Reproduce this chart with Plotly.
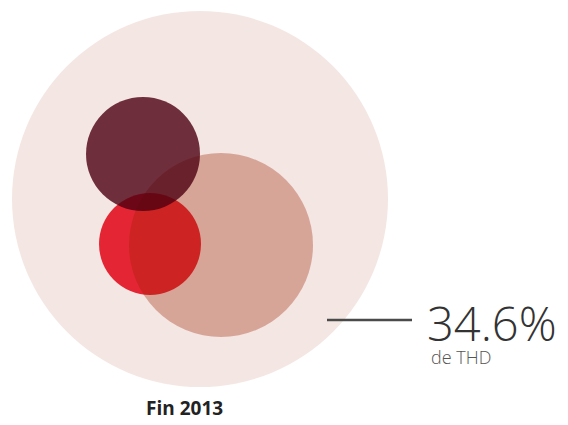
import plotly.graph_objects as go

# Circles (center x, center y, radius) in chart units, drawn back to front
circle_names = ["Total", "Segment rouge", "Segment THD", "Segment bordeaux"]
circle_cx = [200, 150, 221, 143]
circle_cy = [199, 244, 245, 154]
circle_r = [188, 51, 92, 57]
circle_colors = ["rgb(244,231,227)", "rgb(228,38,52)", "rgba(159,31,0,0.33)", "rgba(78,0,17,0.8)"]

value_label = "34.6%"
value_sub = "de THD"
period_label = "Fin 2013"

fig = go.Figure()
fig.add_trace(go.Scatter(x=[0, 568], y=[0, 425], mode="markers",
                         marker=dict(opacity=0), hoverinfo="skip", showlegend=False))

shapes = []
for cx, cy, r, col in zip(circle_cx, circle_cy, circle_r, circle_colors):
    shapes.append(dict(type="circle", xref="x", yref="y",
                       x0=cx - r, x1=cx + r, y0=cy - r, y1=cy + r,
                       fillcolor=col, line=dict(width=0), layer="above"))
# leader line
shapes.append(dict(type="line", xref="x", yref="y", x0=327, x1=412, y0=320, y1=320,
                   line=dict(color="#4a4a4a", width=2.5)))

fig.update_layout(
    width=568, height=425,
    margin=dict(l=0, r=0, t=0, b=0),
    paper_bgcolor="white", plot_bgcolor="white",
    xaxis=dict(range=[0, 568], visible=False, fixedrange=True),
    yaxis=dict(range=[425, 0], visible=False, fixedrange=True),
    shapes=shapes,
    annotations=[
        dict(x=425, y=323, xref="x", yref="y", text=value_label, showarrow=False,
             xanchor="left", yanchor="middle",
             font=dict(family="Open Sans", size=47, color="#333333", weight=300)),
        dict(x=429, y=357, xref="x", yref="y", text=value_sub, showarrow=False,
             xanchor="left", yanchor="middle",
             font=dict(family="Open Sans", size=18, color="#555555", weight=300)),
        dict(x=184, y=408, xref="x", yref="y", text=period_label, showarrow=False,
             xanchor="center", yanchor="middle",
             font=dict(family="Open Sans", size=19, color="#222222", weight=700)),
    ],
    showlegend=False,
)

fig.write_html("out.html", config={"displayModeBar": False},
               post_script="document.body.style.margin='0';document.body.style.overflow='hidden';")
